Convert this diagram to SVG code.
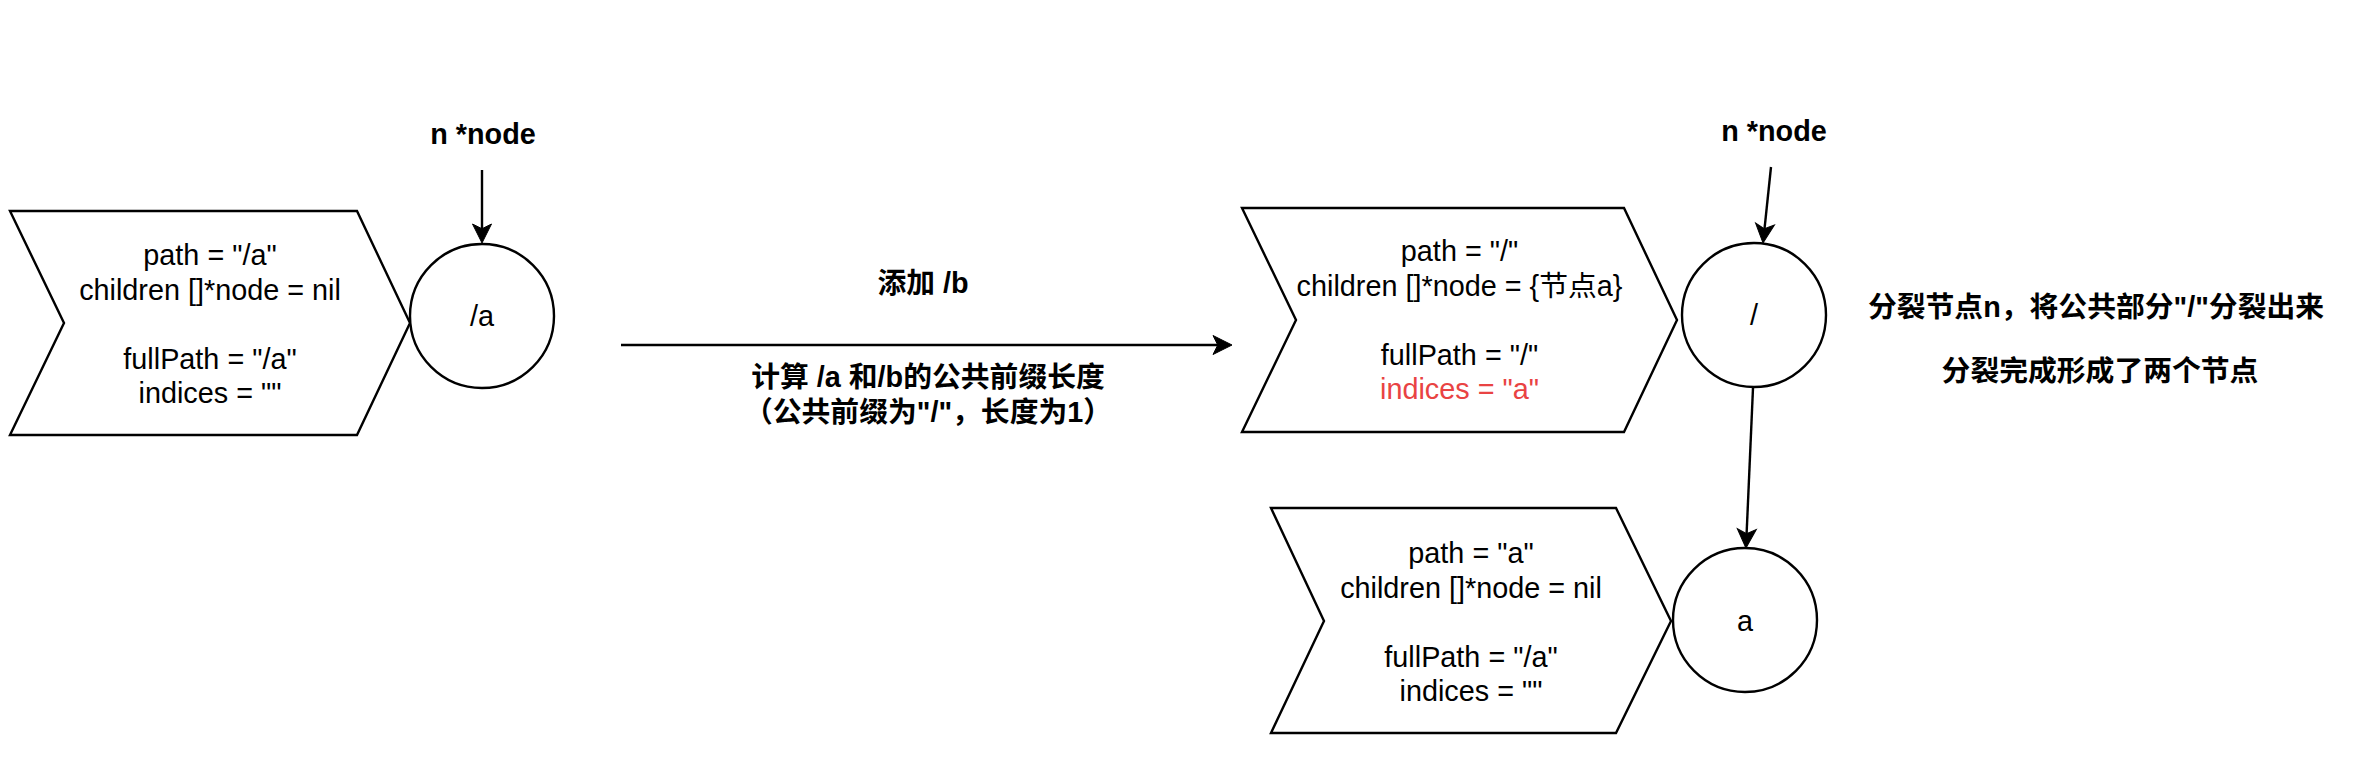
<svg xmlns="http://www.w3.org/2000/svg" width="2380" height="762" viewBox="0 0 2380 762">
<style>
.shape{fill:#ffffff;stroke:#000000;stroke-width:2.4}
.t{font-family:"Liberation Sans","Noto Sans CJK SC",sans-serif;font-size:28.8px;fill:#000000;text-anchor:middle}
.b{font-weight:bold}
.red{fill:#E94343}
.edge{fill:none;stroke:#000000;stroke-width:2.4}
</style>
<defs>
<marker id="arr" markerUnits="userSpaceOnUse" markerWidth="22" markerHeight="22" refX="5.75" refY="10" orient="auto" overflow="visible">
<path d="M20,10 L1,0.5 L5.75,10 L1,19.5 Z" fill="#000000" stroke="#000000" stroke-width="1"/>
</marker>
</defs>
<rect width="2380" height="762" fill="#ffffff"/>

<g id="node-a-info">
<polygon class="shape" points="10,211 357,211 410,323 357,435 10,435 64,323"/>
<text class="t" x="210" y="265">path = "/a"</text>
<text class="t" x="210" y="299.5">children []*node = nil</text>
<text class="t" x="210" y="368.5">fullPath = "/a"</text>
<text class="t" x="210" y="403">indices = ""</text>
</g>
<g id="node-a-circle">
<circle class="shape" cx="482" cy="316" r="72"/>
<text class="t" x="482" y="326">/a</text>
</g>
<g id="label-n-left">
<text class="t b" x="483" y="144">n *node</text>
</g>

<g id="label-add">
<text class="t b" x="923" y="293">添加 /b</text>
<text class="t b" x="928" y="387">计算 /a 和/b的公共前缀长度</text>
<text class="t b" x="928" y="421.5">（公共前缀为"/"，长度为1）</text>
</g>

<g id="node-root-info">
<polygon class="shape" points="1242,208 1624,208 1677,320 1624,432 1242,432 1296,320"/>
<text class="t" x="1459.5" y="261">path = "/"</text>
<text class="t" x="1459.5" y="295.5">children []*node = {节点a}</text>
<text class="t" x="1459.5" y="364.5">fullPath = "/"</text>
<text class="t red" x="1459.5" y="399">indices = "a"</text>
</g>
<g id="node-root-circle">
<circle class="shape" cx="1754" cy="315" r="72"/>
<text class="t" x="1754" y="325">/</text>
</g>
<g id="label-n-right">
<text class="t b" x="1774" y="141">n *node</text>
</g>

<g id="node-child-info">
<polygon class="shape" points="1271,508 1616,508 1671,621 1616,733 1271,733 1324,621"/>
<text class="t" x="1471" y="563">path = "a"</text>
<text class="t" x="1471" y="597.5">children []*node = nil</text>
<text class="t" x="1471" y="666.5">fullPath = "/a"</text>
<text class="t" x="1471" y="701">indices = ""</text>
</g>
<g id="node-child-circle">
<circle class="shape" cx="1745" cy="620" r="72"/>
<text class="t" x="1745" y="631">a</text>
</g>

<g id="label-split">
<text class="t b" x="2096" y="317">分裂节点n，将公共部分"/"分裂出来</text>
<text class="t b" x="2100" y="381">分裂完成形成了两个节点</text>
</g>

<g id="connectors">
<line class="edge" x1="482" y1="170" x2="482" y2="228.75" marker-end="url(#arr)"/>
<line class="edge" x1="621" y1="345" x2="1217.75" y2="345" marker-end="url(#arr)"/>
<line class="edge" x1="1771" y1="167" x2="1764.5" y2="228.8" marker-end="url(#arr)"/>
<line class="edge" x1="1753" y1="388" x2="1746.6" y2="533.8" marker-end="url(#arr)"/>
</g>
</svg>
